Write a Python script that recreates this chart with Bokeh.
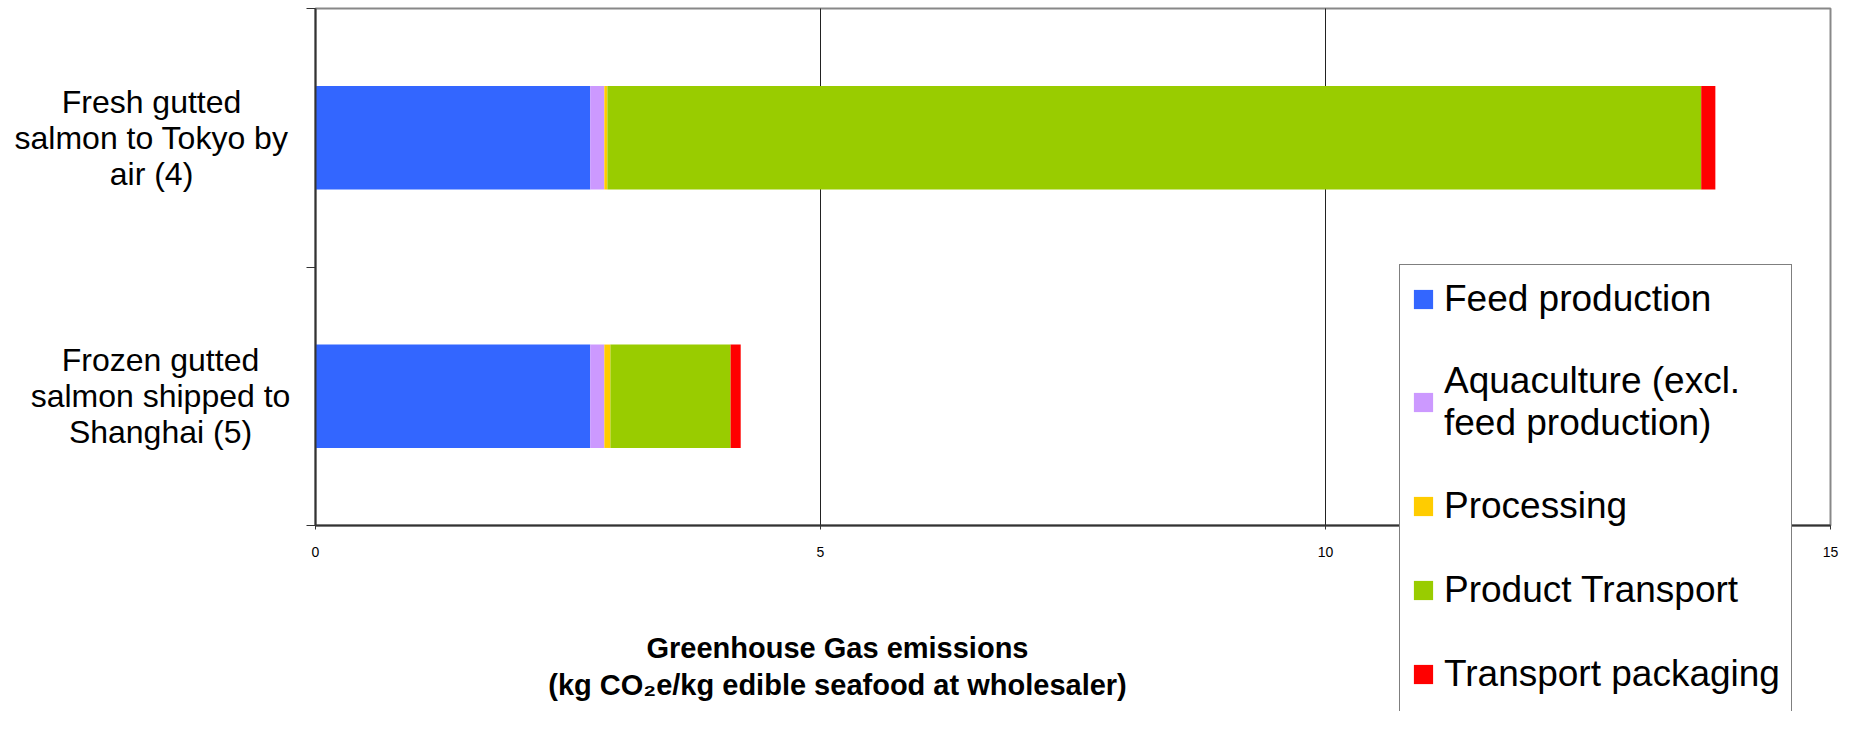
from bokeh.plotting import figure
from bokeh.models import (Range1d, FixedTicker, Legend, LegendItem, ColumnDataSource, Label)
from bokeh.embed import file_html
from bokeh.resources import INLINE

# ---- data ----
categories = ["Fresh gutted\nsalmon to Tokyo by\nair (4)",
              "Frozen gutted\nsalmon shipped to\nShanghai (5)"]
stages = ["Feed production", "Aquaculture (excl.\nfeed production)", "Processing",
          "Product Transport", "Transport packaging"]
feed_production = [2.72, 2.72]
aquaculture = [0.14, 0.14]
processing = [0.03, 0.06]
product_transport = [10.83, 1.19]
transport_packaging = [0.14, 0.10]
colors = ["#3366FF", "#CC99FF", "#FFCC00", "#99CC00", "#FF0000"]
x_ticks = [0, 5, 10, 15]
x_label = "Greenhouse Gas emissions\n(kg CO\u2082e/kg edible seafood at wholesaler)"

# ---- layout constants (pixels) ----
W, H = 1854, 751
X0_PX, X15_PX = 315, 1830          # where x=0 and x=15 sit
YTOP_PX, YAXIS_PX = 8, 525         # top of the category band, x axis
FR_LEFT, FR_RIGHT, FR_TOP, FR_BOTTOM = 10, 1844, 4, 711
CAT_LABEL_CENTER_PX = [151, 160]   # horizontal centre of each category label block

n = len(categories)
xmax = x_ticks[-1]
x_per_px = xmax / (X15_PX - X0_PX)
y_per_px = n / (YAXIS_PX - YTOP_PX)
x_range = Range1d(-(X0_PX - FR_LEFT) * x_per_px, xmax + (FR_RIGHT - X15_PX) * x_per_px)
y_range = Range1d(-(FR_BOTTOM - YAXIS_PX) * y_per_px, n + (YTOP_PX - FR_TOP) * y_per_px)

ypos = [n - i - 0.5 for i in range(n)]
keys = ["feed", "aqua", "proc", "trans", "pack"]
source = ColumnDataSource(dict(y=ypos, feed=feed_production, aqua=aquaculture,
                               proc=processing, trans=product_transport,
                               pack=transport_packaging))

FONT = "Liberation Sans"

p = figure(width=W, height=H, x_range=x_range, y_range=y_range,
           toolbar_location=None, output_backend="svg",
           min_border_left=FR_LEFT, min_border_right=W - FR_RIGHT,
           min_border_top=FR_TOP, min_border_bottom=H - FR_BOTTOM)
p.background_fill_color = "white"
p.border_fill_color = "white"
p.outline_line_color = None
p.xgrid.grid_line_color = None
p.ygrid.grid_line_color = None

# plot-area border (top / right edges show; left / bottom lie under the axes)
p.quad(left=[0], right=[xmax], bottom=[0], top=[n], fill_color=None,
       line_color="#888888", line_width=2)
# vertical grid lines at the inner ticks
grid_x = x_ticks[1:-1]
p.segment(x0=grid_x, x1=grid_x, y0=[0] * len(grid_x), y1=[n] * len(grid_x),
          line_color="#222222", line_width=1)

renderers = p.hbar_stack(keys, y="y", height=0.4, color=colors, source=source, line_width=0)

# x axis, drawn at y = 0
xa = p.xaxis[0]
xa.fixed_location = 0
xa.bounds = (0, xmax)
xa.ticker = FixedTicker(ticks=x_ticks)
xa.major_tick_out = 4
xa.major_tick_in = 0
xa.minor_tick_line_color = None
xa.axis_line_color = "#333333"
xa.axis_line_width = 2
xa.major_tick_line_color = "#333333"
xa.major_label_text_font = FONT
xa.major_label_text_font_size = "14px"
xa.major_label_text_color = "black"
xa.major_label_standoff = 17

# y axis, drawn at x = 0 and spanning the category band only (ticks between categories)
ya = p.yaxis[0]
ya.fixed_location = 0
ya.bounds = (0, n)
ya.ticker = FixedTicker(ticks=[], minor_ticks=list(range(n + 1)))
ya.major_tick_out = 0
ya.major_tick_in = 0
ya.minor_tick_out = 9
ya.minor_tick_in = 0
ya.minor_tick_line_color = "#333333"
ya.axis_line_color = "#333333"
ya.axis_line_width = 2
ya.major_label_text_font_size = "0px"
ya.major_label_standoff = 0

# category labels (centred multi-line blocks left of the axis)
for cat, yv, cx in zip(categories, ypos, CAT_LABEL_CENTER_PX):
    p.add_layout(Label(x=cx - FR_LEFT, y=yv, x_units="screen", y_units="data",
                       text=cat, text_align="center", text_baseline="middle",
                       text_font=FONT, text_font_size="32px", text_line_height=1.0,
                       text_color="black"))

# x axis title
p.add_layout(Label(x=837 - FR_LEFT, y=FR_BOTTOM - 666, x_units="screen", y_units="screen",
                   text=x_label, text_align="center", text_baseline="middle", text_font=FONT,
                   text_font_style="bold", text_font_size="29px",
                   text_line_height=1.17, text_color="black"))

# legend (a blank trailing entry lets the box run past the bottom of the picture)
spacer = p.hbar(y=[], right=[], height=0.4, fill_alpha=0, line_alpha=0)
items = [LegendItem(label=s, renderers=[r]) for s, r in zip(stages, renderers)]
items.append(LegendItem(label=" ", renderers=[spacer]))
LEG_LEFT, LEG_TOP, LEG_H = 1399, 264, 528
legend = Legend(items=items,
                location=(LEG_LEFT - FR_LEFT, FR_BOTTOM - LEG_TOP - LEG_H),
                padding=11, spacing=39, label_height=45,
                glyph_width=24, glyph_height=24, label_standoff=9,
                label_text_font=FONT, label_text_font_size="37px",
                label_text_line_height=1.17, label_text_color="black",
                border_line_color="black", border_line_width=1,
                background_fill_color="white", background_fill_alpha=1)
p.add_layout(legend)

open("out.html", "w").write(file_html(p, INLINE))
